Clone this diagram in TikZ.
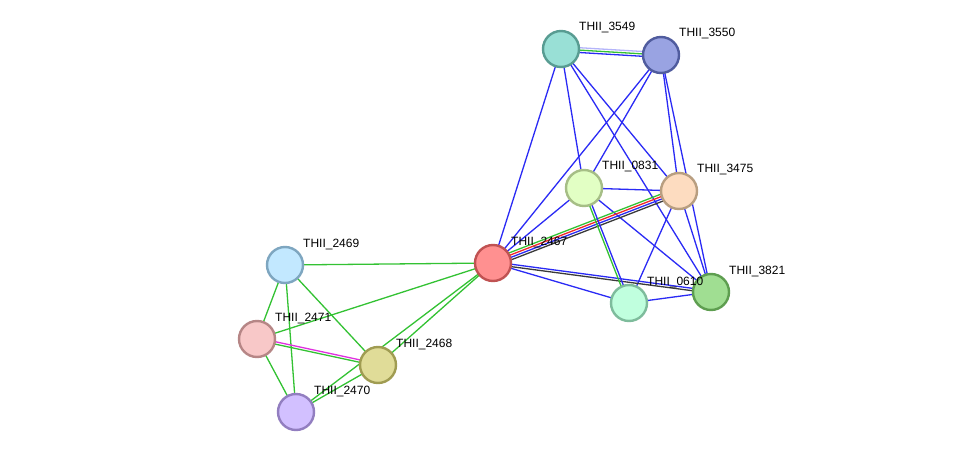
\documentclass[tikz,border=0pt]{standalone}
\usepackage{fontspec}
\setmainfont{Liberation Sans}
\usetikzlibrary{calc}
\pgfdeclarelayer{bg}
\pgfsetlayers{bg,main}
\definecolor{lnblue}{HTML}{2A2AF5}
\definecolor{lngreen}{HTML}{33C233}
\definecolor{lnred}{HTML}{F02828}
\definecolor{lnblack}{HTML}{3A3A3A}
\definecolor{lnpink}{HTML}{E030E0}
\definecolor{lnlav}{HTML}{B4B4FA}
\tikzset{
  prot/.style={circle, inner sep=0pt, minimum size=36pt, line width=2.4pt},
  plabel/.style={anchor=west, inner sep=0pt, font=\fontsize{12}{14}\selectfont},
  lnk/.style={line width=1.3pt}
}
\def\link[#1](#2)(#3)#4;{\draw[lnk,#1] ($(#2.center)!#4!90:(#3.center)$) -- ($(#3.center)!#4!-90:(#2.center)$);}

\begin{document}
\begin{tikzpicture}[x=1pt,y=-1pt]
		%%%%% START %%%%%
		\useasboundingbox (0,0) rectangle (975,458);
		
		\node[prot, fill={rgb,255:red,153;green,224;blue,214}, draw={rgb,255:red,88;green,156;blue,146}] (p3549) at (561,49) {};
		\node[prot, fill={rgb,255:red,153;green,163;blue,226}, draw={rgb,255:red,80;green,92;blue,158}] (p3550) at (661,55) {};
		\node[prot, fill={rgb,255:red,226;green,255;blue,196}, draw={rgb,255:red,166;green,190;blue,134}] (p0831) at (584,188) {};
		\node[prot, fill={rgb,255:red,253;green,220;blue,192}, draw={rgb,255:red,184;green,158;blue,128}] (p3475) at (679,191) {};
		\node[prot, fill={rgb,255:red,255;green,144;blue,144}, draw={rgb,255:red,192;green,82;blue,82}] (p2467) at (493,263) {};
		\node[prot, fill={rgb,255:red,192;green,255;blue,222}, draw={rgb,255:red,126;green,188;blue,156}] (p0610) at (629,303) {};
		\node[prot, fill={rgb,255:red,160;green,222;blue,146}, draw={rgb,255:red,94;green,158;blue,80}] (p3821) at (711,292) {};
		\node[prot, fill={rgb,255:red,194;green,232;blue,255}, draw={rgb,255:red,126;green,166;blue,192}] (p2469) at (285,265) {};
		\node[prot, fill={rgb,255:red,248;green,200;blue,200}, draw={rgb,255:red,182;green,134;blue,134}] (p2471) at (257,339) {};
		\node[prot, fill={rgb,255:red,224;green,220;blue,152}, draw={rgb,255:red,160;green,156;blue,82}] (p2468) at (378,365) {};
		\node[prot, fill={rgb,255:red,210;green,192;blue,255}, draw={rgb,255:red,146;green,126;blue,192}] (p2470) at (296,412) {};
		
		\foreach \p/\t in {p3549/3549, p3550/3550, p0831/0831, p3475/3475, p2467/2467,
		                   p0610/0610, p3821/3821, p2469/2469, p2471/2471, p2468/2468, p2470/2470}
		  \node[plabel] (l\t) at ([shift={(18,-21)}]\p.center) {THII\_\t};
		
		\begin{pgfonlayer}{bg}
		\fill[white] (0,0) rectangle (975,458);
		% top pair
		\link[lnlav](p3549)(p3550)2.4pt;
		\link[lngreen](p3549)(p3550)0pt;
		\link[lnblue](p3549)(p3550)-2.4pt;
		
		% blue links in the right cluster
		\foreach \a/\b in {p3549/p2467, p3549/p0831, p3549/p3475, p3549/p3821,
		                   p3550/p2467, p3550/p0831, p3550/p3475, p3550/p3821,
		                   p0831/p2467, p0831/p3475, p0831/p3821,
		                   p3475/p0610, p3475/p3821, p2467/p0610, p0610/p3821}
		  \draw[lnk, lnblue] (\a.center) -- (\b.center);
		
		\link[lngreen](p2467)(p3475)3.6pt;
		\link[lnred](p2467)(p3475)1.2pt;
		\link[lnblue](p2467)(p3475)-1.2pt;
		\link[lnblack](p2467)(p3475)-3.6pt;
		
		\link[lnblue](p2467)(p3821)1.2pt;
		\link[lnblack](p2467)(p3821)-1.2pt;
		
		\link[lnblue](p0831)(p0610)1.2pt;
		\link[lngreen](p0831)(p0610)-1.2pt;
		
		% left cluster
		\foreach \a/\b in {p2467/p2469, p2467/p2471, p2467/p2468, p2467/p2470,
		                   p2469/p2471, p2469/p2468, p2469/p2470,
		                   p2471/p2470, p2468/p2470}
		  \draw[lnk, lngreen] (\a.center) -- (\b.center);
		
		\link[lnpink](p2471)(p2468)1.2pt;
		\link[lngreen](p2471)(p2468)-1.2pt;
		\end{pgfonlayer}
		
		%%%%% END %%%%%
\end{tikzpicture}
\end{document}
